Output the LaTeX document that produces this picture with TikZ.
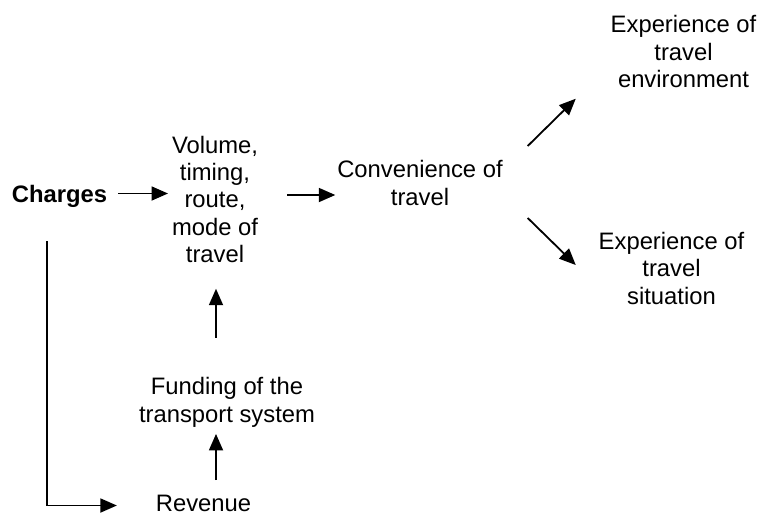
\documentclass[tikz,border=0pt]{standalone}
\usepackage{fontspec}
\setmainfont{Liberation Sans}
\usetikzlibrary{arrows.meta,calc}
\begin{document}
\begin{tikzpicture}[x=1pt,y=1pt,
  lbl/.style={inner sep=0pt,outer sep=0pt,anchor=base,align=center,
    font=\fontsize{23.8}{27.3}\selectfont},
  arr/.style={line width=1.8pt,-{Triangle[length=16.5pt,width=14pt]}}]
\useasboundingbox (0,0) rectangle (757,-514);
\node[lbl,font=\fontsize{23.8}{27.3}\selectfont\bfseries] (charges) at (59.5,-202) {Charges};
\node[lbl] (volume) at (215,-262.5) {Volume,\\timing,\\route,\\mode of\\travel};
\node[lbl] (conv) at (420,-205) {Convenience of\\travel};
\node[lbl] (env) at (683.5,-87.5) {Experience of\\travel\\environment};
\node[lbl] (sit) at (671.5,-304) {Experience of\\travel\\situation};
\node[lbl] (fund) at (227,-422) {Funding of the\\transport system};
\node[lbl] (rev) at (203.5,-511.5) {Revenue};
% connectors
\draw[arr] ($(charges.base east)+(11pt,8.5pt)$) -- ($(volume.west |- charges.base)+(-4pt,8.5pt)$);
\draw[arr] ($(volume.east |- conv.base)+(29pt,10pt)$) -- ($(conv.base west)+(-2pt,10pt)$);
\draw[arr] ($(conv.base east)+(25pt,59pt)$) -- ($(env.south west)+(-35pt,-11pt)$);
\draw[arr] ($(conv.base east)+(25pt,-13pt)$) -- ($(sit.base west)+(-23pt,39pt)$);
\draw[arr] ($(fund.north -| volume.south)+(1pt,39.5pt)$) -- ($(volume.south)+(1pt,-26pt)$);
\draw[arr] ($(rev.north -| volume.south)+(1pt,15pt)$) -- ($(fund.south -| volume.south)+(1pt,-7pt)$);
\draw[arr] ($(charges.south)+(-12.5pt,-34pt)$) |- ($(rev.base west)+(-39pt,6pt)$);
\end{tikzpicture}
\end{document}
